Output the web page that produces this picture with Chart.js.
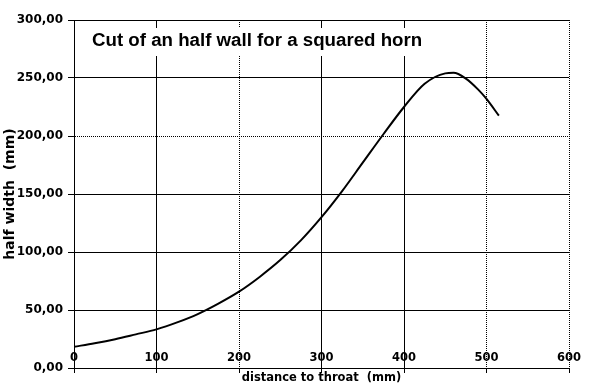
<!DOCTYPE html>
<html>
<head>
<meta charset="utf-8">
<script src="https://cdn.jsdelivr.net/npm/chart.js@4/dist/chart.umd.min.js"></script>
<style>
  body { margin: 0; background: #fff; }
  canvas { display: block; }
</style>
</head>
<body>
<canvas id="myChart" width="600" height="385"></canvas>
<script>
// distance to throat (mm) and half width (mm)
const distance = [0, 25, 50, 75, 100, 125, 150, 175, 200, 225, 250, 275, 300,
  325, 350, 375, 400, 425, 450, 460, 475, 490, 500, 515];
const halfWidth = [18.3, 21.3, 24.8, 29, 33.3, 39.3, 46.5, 55.5, 65.8, 78.5, 93, 110, 130,
  152.5, 177, 201.5, 225, 245, 254, 254.5, 249.5, 240, 232, 217.5];

const chartTitle = "Cut of an half wall for a squared horn";
const xTitle = "distance to throat  (mm)";
const yTitle = "half width  (mm)";
const dottedX = [200, 500, 600];
const dottedY = [200];

let points = [];
for (let i = 0; i < distance.length; i++) {
  points.push({ x: distance[i], y: halfWidth[i] });
}

const titleBox = {
  id: "titleBox",
  afterDraw(chart) {
    const ctx = chart.ctx;
    const left = chart.chartArea.left;
    const top = chart.chartArea.top;
    ctx.save();
    ctx.fillStyle = "#fff";
    ctx.fillRect(left + 12, top + 8, 336, 28);
    ctx.fillStyle = "#000";
    ctx.font = 'bold 18.7px "Liberation Sans", Arial, sans-serif';
    ctx.textBaseline = "alphabetic";
    ctx.fillText(chartTitle, left + 18, top + 26);
    ctx.restore();
  },
};

Chart.defaults.font.family = "'DejaVu Sans', sans-serif";
Chart.defaults.font.size = 12;
Chart.defaults.font.weight = "bold";
Chart.defaults.color = "#000";

const config = {
  type: "line",
  data: {
    datasets: [
      {
        data: points,
        borderColor: "#000",
        backgroundColor: "#000",
        borderWidth: 2,
        pointRadius: 0,
        cubicInterpolationMode: "monotone",
        fill: false,
      },
    ],
  },
  options: {
    responsive: false,
    animation: false,
    layout: {
      padding: { top: 20, right: 31, left: 0, bottom: 0 },
    },
    scales: {
      x: {
        type: "linear",
        min: 0,
        max: 600,
        afterFit: (scale) => { scale.height = 17; },
        ticks: {
          stepSize: 100,
          mirror: true,
          padding: 3,
          maxRotation: 0,
          font: { size: 11.5 },
        },
        grid: {
          color: "#000",
          tickLength: 5,
        },
        border: {
          color: "#000",
          dash: (ctx) => (ctx.tick && dottedX.includes(ctx.tick.value) ? [1, 1] : []),
        },
        title: {
          display: true,
          text: xTitle,
          font: { size: 11.5 },
          padding: { top: 0, bottom: 0 },
        },
      },
      y: {
        min: 0,
        max: 300,
        afterFit: (scale) => { scale.width = 74; },
        ticks: {
          stepSize: 50,
          padding: 5,
          callback: (value) => value.toFixed(2).replace(".", ","),
        },
        grid: {
          color: "#000",
          tickLength: 6,
        },
        border: {
          color: "#000",
          dash: (ctx) => (ctx.tick && dottedY.includes(ctx.tick.value) ? [1, 1] : []),
        },
        title: {
          display: true,
          text: yTitle,
          font: { size: 14 },
          padding: { top: 1.5, bottom: 0 },
        },
      },
    },
    plugins: {
      legend: { display: false },
      tooltip: { enabled: false },
    },
  },
  plugins: [titleBox],
};

const myChart = new Chart(document.getElementById("myChart"), config);
</script>
</body>
</html>
